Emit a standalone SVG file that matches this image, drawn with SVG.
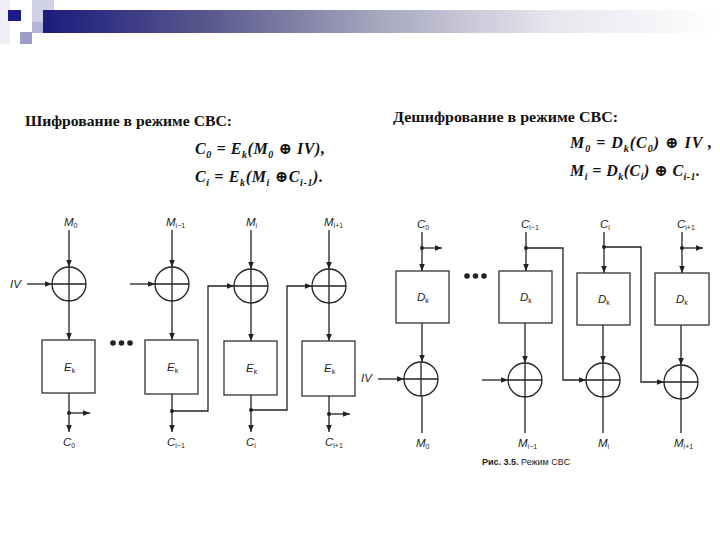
<svg xmlns="http://www.w3.org/2000/svg" width="720" height="540" viewBox="0 0 720 540">
<defs>
<linearGradient id="bar" x1="0" y1="0" x2="1" y2="0">
<stop offset="0" stop-color="#1b1b7e"/>
<stop offset="0.25" stop-color="#5a5a8e"/>
<stop offset="0.5" stop-color="#a8a8bf"/>
<stop offset="0.75" stop-color="#e6e6ee"/>
<stop offset="1" stop-color="#ffffff"/>
</linearGradient>
<marker id="ah" viewBox="0 0 10 10" refX="10" refY="5" markerWidth="7" markerHeight="7" markerUnits="userSpaceOnUse" orient="auto">
<path d="M0,1 L10,5 L0,9 z" fill="#222"/>
</marker>
<style>
.ln{fill:none;stroke:#222;stroke-width:1.3}
.bx{fill:#fff;stroke:#333;stroke-width:1.3}
.ttl{font-family:"Liberation Serif","DejaVu Serif",serif;font-weight:bold;font-size:15px;fill:#111}
.fm{font-family:"Liberation Serif","DejaVu Serif",serif;font-weight:bold;font-style:italic;font-size:16px;fill:#111}
.fs{font-size:10px}
.lb{font-family:"Liberation Sans",Arial,sans-serif;font-style:italic;font-size:11.5px;fill:#222}
.ls{font-size:7px;font-style:normal}
.cap{font-family:"Liberation Sans",Arial,sans-serif;font-size:9px;fill:#222}
</style>
</defs>
<g id="decor">
<rect x="0" y="0" width="10" height="44" fill="#eeeef6"/>
<rect x="32" y="0" width="22" height="22" fill="#d2d2e6"/>
<rect x="43" y="10" width="677" height="23" fill="url(#bar)"/>
<rect x="32" y="22" width="11" height="11" fill="#b4b4d6"/>
<rect x="8" y="10" width="13" height="11" fill="#1a1a8a"/>
<rect x="20" y="32" width="12" height="12" fill="#9c9cc8"/>
</g>
<g id="titles">
<text class="ttl" x="25" y="126" textLength="207" lengthAdjust="spacingAndGlyphs">Шифрование в режиме CBC:</text>
<text class="fm" x="195" y="154" textLength="130">C<tspan class="fs" dy="4">0</tspan><tspan dy="-4"> = E</tspan><tspan class="fs" dy="4">k</tspan><tspan dy="-4">(M</tspan><tspan class="fs" dy="4">0</tspan><tspan dy="-4"> ⊕ IV),</tspan></text>
<text class="fm" x="195" y="182" textLength="128">C<tspan class="fs" dy="4">i</tspan><tspan dy="-4"> = E</tspan><tspan class="fs" dy="4">k</tspan><tspan dy="-4">(M</tspan><tspan class="fs" dy="4">i</tspan><tspan dy="-4"> ⊕C</tspan><tspan class="fs" dy="4">i-1</tspan><tspan dy="-4">).</tspan></text>
<text class="ttl" x="393" y="122" textLength="225" lengthAdjust="spacingAndGlyphs">Дешифрование в режиме CBC:</text>
<text class="fm" x="570" y="148" textLength="142">M<tspan class="fs" dy="4">0</tspan><tspan dy="-4"> = D</tspan><tspan class="fs" dy="4">k</tspan><tspan dy="-4">(C</tspan><tspan class="fs" dy="4">0</tspan><tspan dy="-4">) ⊕ IV ,</tspan></text>
<text class="fm" x="570" y="176" textLength="130">M<tspan class="fs" dy="4">i</tspan><tspan dy="-4"> = D</tspan><tspan class="fs" dy="4">k</tspan><tspan dy="-4">(C</tspan><tspan class="fs" dy="4">i</tspan><tspan dy="-4">) ⊕ C</tspan><tspan class="fs" dy="4">i-1</tspan><tspan dy="-4">.</tspan></text>
</g>
<g id="connectors">
<line class="ln" x1="69" y1="230" x2="69" y2="267" marker-end="url(#ah)"/>
<line class="ln" x1="172" y1="230" x2="172" y2="267" marker-end="url(#ah)"/>
<line class="ln" x1="251" y1="230" x2="251" y2="269" marker-end="url(#ah)"/>
<line class="ln" x1="329" y1="230" x2="329" y2="269" marker-end="url(#ah)"/>
<line class="ln" x1="27" y1="284" x2="52" y2="284" marker-end="url(#ah)"/>
<line class="ln" x1="130" y1="284" x2="155" y2="284" marker-end="url(#ah)"/>
<line class="ln" x1="69" y1="301" x2="69" y2="340" marker-end="url(#ah)"/>
<line class="ln" x1="172" y1="301" x2="172" y2="340" marker-end="url(#ah)"/>
<line class="ln" x1="251" y1="303" x2="251" y2="341" marker-end="url(#ah)"/>
<line class="ln" x1="329" y1="303" x2="329" y2="341" marker-end="url(#ah)"/>
<line class="ln" x1="69" y1="393" x2="69" y2="432" marker-end="url(#ah)"/>
<line class="ln" x1="172" y1="394" x2="172" y2="432" marker-end="url(#ah)"/>
<line class="ln" x1="251" y1="395" x2="251" y2="432" marker-end="url(#ah)"/>
<line class="ln" x1="329" y1="396" x2="329" y2="432" marker-end="url(#ah)"/>
<line class="ln" x1="69" y1="413" x2="90" y2="413" marker-end="url(#ah)"/>
<line class="ln" x1="329" y1="414" x2="350" y2="414" marker-end="url(#ah)"/>
<polyline class="ln" points="172,411 208,411 208,286 234,286" marker-end="url(#ah)"/>
<polyline class="ln" points="251,410 287,410 287,286 312,286" marker-end="url(#ah)"/>
<line class="ln" x1="422" y1="232" x2="422" y2="271" marker-end="url(#ah)"/>
<line class="ln" x1="526" y1="232" x2="526" y2="271" marker-end="url(#ah)"/>
<line class="ln" x1="604" y1="232" x2="604" y2="273" marker-end="url(#ah)"/>
<line class="ln" x1="682" y1="232" x2="682" y2="273" marker-end="url(#ah)"/>
<line class="ln" x1="422" y1="248" x2="442" y2="248" marker-end="url(#ah)"/>
<line class="ln" x1="682" y1="248" x2="703" y2="248" marker-end="url(#ah)"/>
<polyline class="ln" points="526,248 563,248 563,380 586,380" marker-end="url(#ah)"/>
<polyline class="ln" points="604,247 641,247 641,382 664,382" marker-end="url(#ah)"/>
<line class="ln" x1="422" y1="323" x2="422" y2="362" marker-end="url(#ah)"/>
<line class="ln" x1="525" y1="323" x2="525" y2="363" marker-end="url(#ah)"/>
<line class="ln" x1="603" y1="325" x2="603" y2="363" marker-end="url(#ah)"/>
<line class="ln" x1="681" y1="325" x2="681" y2="365" marker-end="url(#ah)"/>
<line class="ln" x1="378" y1="379" x2="404" y2="379" marker-end="url(#ah)"/>
<line class="ln" x1="482" y1="380" x2="508" y2="380" marker-end="url(#ah)"/>
<line class="ln" x1="422" y1="396" x2="422" y2="433"/>
<line class="ln" x1="525" y1="397" x2="525" y2="433"/>
<line class="ln" x1="603" y1="397" x2="603" y2="433"/>
<line class="ln" x1="681" y1="399" x2="681" y2="433"/>
<g fill="#222">
<circle cx="69" cy="413" r="2"/><circle cx="172" cy="411" r="2"/><circle cx="251" cy="410" r="2"/><circle cx="329" cy="414" r="2"/>
<circle cx="422" cy="248" r="2"/><circle cx="526" cy="248" r="2"/><circle cx="604" cy="247" r="2"/><circle cx="682" cy="248" r="2"/>
</g>
</g>
<g id="enc-xor1"><circle class="ln" cx="69" cy="284" r="17"/><path class="ln" d="M52,284H86M69,267V301"/></g>
<g id="enc-xor2"><circle class="ln" cx="172" cy="284" r="17"/><path class="ln" d="M155,284H189M172,267V301"/></g>
<g id="enc-xor3"><circle class="ln" cx="251" cy="286" r="17"/><path class="ln" d="M234,286H268M251,269V303"/></g>
<g id="enc-xor4"><circle class="ln" cx="329" cy="286" r="17"/><path class="ln" d="M312,286H346M329,269V303"/></g>
<g id="enc-box1"><rect class="bx" x="42" y="340" width="53" height="53"/><text class="lb" x="64" y="371">E<tspan class="ls" dy="2">k</tspan></text></g>
<g id="enc-box2"><rect class="bx" x="145" y="340" width="53" height="54"/><text class="lb" x="167" y="371">E<tspan class="ls" dy="2">k</tspan></text></g>
<g id="enc-box3"><rect class="bx" x="224" y="341" width="53" height="54"/><text class="lb" x="246" y="372">E<tspan class="ls" dy="2">k</tspan></text></g>
<g id="enc-box4"><rect class="bx" x="302" y="341" width="53" height="55"/><text class="lb" x="324" y="372">E<tspan class="ls" dy="2">k</tspan></text></g>
<g id="dec-box1"><rect class="bx" x="396" y="271" width="53" height="52"/><text class="lb" x="417" y="301">D<tspan class="ls" dy="2">k</tspan></text></g>
<g id="dec-box2"><rect class="bx" x="499" y="271" width="53" height="52"/><text class="lb" x="520" y="301">D<tspan class="ls" dy="2">k</tspan></text></g>
<g id="dec-box3"><rect class="bx" x="577" y="273" width="53" height="52"/><text class="lb" x="598" y="303">D<tspan class="ls" dy="2">k</tspan></text></g>
<g id="dec-box4"><rect class="bx" x="655" y="273" width="54" height="52"/><text class="lb" x="676" y="303">D<tspan class="ls" dy="2">k</tspan></text></g>
<g id="dec-xor1"><circle class="ln" cx="421" cy="379" r="17"/><path class="ln" d="M404,379H438M421,362V396"/></g>
<g id="dec-xor2"><circle class="ln" cx="525" cy="380" r="17"/><path class="ln" d="M508,380H542M525,363V397"/></g>
<g id="dec-xor3"><circle class="ln" cx="603" cy="380" r="17"/><path class="ln" d="M586,380H620M603,363V397"/></g>
<g id="dec-xor4"><circle class="ln" cx="681" cy="382" r="17"/><path class="ln" d="M664,382H698M681,365V399"/></g>
<g id="labels">
<text class="lb" x="64" y="226">M<tspan class="ls" dy="2">0</tspan></text>
<text class="lb" x="166" y="226">M<tspan class="ls" dy="2">i−1</tspan></text>
<text class="lb" x="246" y="226">M<tspan class="ls" dy="2">i</tspan></text>
<text class="lb" x="324" y="226">M<tspan class="ls" dy="2">i+1</tspan></text>
<text class="lb" x="10" y="288">IV</text>
<text class="lb" x="63" y="446">C<tspan class="ls" dy="2">0</tspan></text>
<text class="lb" x="167" y="446">C<tspan class="ls" dy="2">i−1</tspan></text>
<text class="lb" x="246" y="446">C<tspan class="ls" dy="2">i</tspan></text>
<text class="lb" x="325" y="446">C<tspan class="ls" dy="2">i+1</tspan></text>
<text class="lb" x="361" y="382">IV</text>
<text class="lb" x="417" y="228">C<tspan class="ls" dy="2">0</tspan></text>
<text class="lb" x="521" y="228">C<tspan class="ls" dy="2">i−1</tspan></text>
<text class="lb" x="600" y="228">C<tspan class="ls" dy="2">i</tspan></text>
<text class="lb" x="677" y="228">C<tspan class="ls" dy="2">i+1</tspan></text>
<text class="lb" x="416" y="447">M<tspan class="ls" dy="2">0</tspan></text>
<text class="lb" x="518" y="447">M<tspan class="ls" dy="2">i−1</tspan></text>
<text class="lb" x="598" y="447">M<tspan class="ls" dy="2">i</tspan></text>
<text class="lb" x="674" y="447">M<tspan class="ls" dy="2">i+1</tspan></text>
<g id="dots" fill="#222">
<circle cx="113" cy="343" r="2.8"/><circle cx="121.5" cy="343" r="2.8"/><circle cx="130" cy="343" r="2.8"/>
<circle cx="467" cy="276" r="2.8"/><circle cx="475.5" cy="276" r="2.8"/><circle cx="484" cy="276" r="2.8"/>
</g>
<text class="cap" x="482" y="465"><tspan font-weight="bold">Рис. 3.5.</tspan> Режим CBC</text>
</g>
</svg>
